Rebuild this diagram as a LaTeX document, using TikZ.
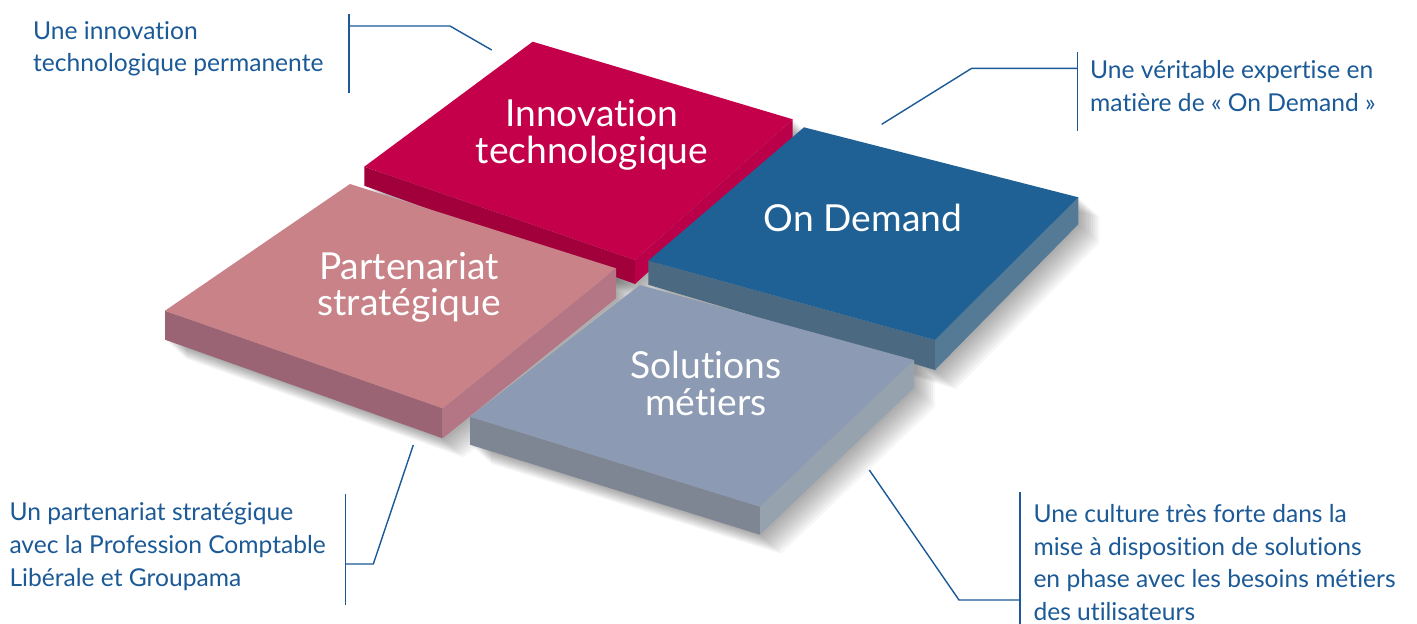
\documentclass[tikz,border=0pt]{standalone}
\usepackage{fontspec}
\setmainfont{Lato}[Ligatures={NoCommon}]
\usetikzlibrary{calc}
\definecolor{txtblue}{HTML}{1B5A97}
\definecolor{innT}{HTML}{C5004B}\definecolor{innL}{HTML}{A1003A}\definecolor{innR}{HTML}{BA0049}
\definecolor{ondT}{HTML}{1F6194}\definecolor{ondL}{HTML}{4B6A81}\definecolor{ondR}{HTML}{557A95}
\definecolor{parT}{HTML}{C88288}\definecolor{parL}{HTML}{9A6474}\definecolor{parR}{HTML}{B47585}
\definecolor{solT}{HTML}{8C9AB3}\definecolor{solL}{HTML}{7E8593}\definecolor{solR}{HTML}{97A2AF}
\newcommand\mktile[8]{% prefix, T, R, F, L, dL, dF, dR
  \coordinate (#1T) at #2; \coordinate (#1R) at #3; \coordinate (#1F) at #4; \coordinate (#1L) at #5;
  \coordinate (#1Lb) at ($(#1L)+(0,#6)$); \coordinate (#1Fb) at ($(#1F)+(0,#7)$); \coordinate (#1Rb) at ($(#1R)+(0,#8)$);
}
\newcommand\tileshadow[1]{%
  \foreach \i in {1,...,10}{
    \fill[black,opacity=0.036]
      ($(#1T)+(\i*2.1,\i*1.9)$) -- ($(#1R)+(\i*2.1,\i*1.9)$) -- ($(#1Rb)+(\i*2.1,\i*1.9)$) --
      ($(#1Fb)+(\i*2.1,\i*1.9)$) -- ($(#1Lb)+(\i*2.1,\i*1.9)$) -- ($(#1L)+(\i*2.1,\i*1.9)$) -- cycle;
  }}
\newcommand\tilefaces[2]{% prefix, colour prefix
  \fill[#2L] (#1L) -- (#1F) -- (#1Fb) -- (#1Lb) -- cycle;
  \fill[#2R] (#1F) -- (#1R) -- (#1Rb) -- (#1Fb) -- cycle;
  \fill[#2T] (#1T) -- (#1R) -- (#1F) -- (#1L) -- cycle;
}
\tikzset{
  desc/.style={anchor=base west, inner sep=0pt, align=left, text=txtblue,
    font=\fontsize{24.6}{32.6}\selectfont},
  tilelabel/.style={anchor=base, inner sep=0pt, align=center, text=white,
    font=\fontsize{37.2}{36.7}\selectfont},
  conn/.style={draw=txtblue, line width=1.4pt}
}
\begin{document}
\begin{tikzpicture}[x=1pt,y=-1pt]
\useasboundingbox (0,0) rectangle (1417,624);
\fill[white] (0,0) rectangle (1417,624);
% tile geometry
\mktile{i}{(532.7,41.7)}{(792.7,119.3)}{(635,260)}{(364.3,166.7)}{19}{24}{21}
\mktile{o}{(804,127.3)}{(1078.3,197.3)}{(935,340)}{(648.3,260.7)}{24}{30}{27}
\mktile{p}{(350,184)}{(616,268.3)}{(442.7,408.3)}{(165,310.7)}{29}{30}{30}
\mktile{s}{(640,285)}{(914,360)}{(760,506.7)}{(470,416.7)}{28}{28}{28}
% shadows
\tileshadow{i}\tileshadow{o}\tileshadow{p}\tileshadow{s}
% tiles, back to front
\tilefaces{i}{inn}
\tilefaces{o}{ond}
\tilefaces{p}{par}
\tilefaces{s}{sol}
% tile labels (anchored at the baseline of the last line)
\node[tilelabel] (lInn) at (592,163.3) {Innovation\\technologique};
\node[tilelabel] (lOnd) at (863,231.7) {On Demand};
\node[tilelabel] (lPar) at (409,315.7) {Partenariat\\stratégique};
\node[tilelabel] (lSol) at (706,415) {Solutions\\métiers};
% descriptions
\node[desc] (dTL) at (33,71.7) {Une innovation\\technologique permanente};
\node[desc] (dTR) at (1090,111) {Une véritable expertise en\\matière de « On Demand »};
\node[desc] (dBL) at (9.3,586) {Un partenariat stratégique\\avec la Profession Comptable\\Libérale et Groupama};
\node[desc] (dBR) at (1033.3,620.5) {Une culture très forte dans la\\mise à disposition de solutions\\en phase avec les besoins métiers\\des utilisateurs};
% connectors
\coordinate (tlA) at (349,14); \coordinate (tlB) at (349,93); \coordinate (tlJ) at (349,26);
\coordinate (tlK) at (450,26); \coordinate (tlE) at (491.7,50);
\draw[conn] (tlA) -- (tlB);
\draw[conn] (tlJ) -- (tlK) -- (tlE);
\coordinate (trA) at (1077.3,52.3); \coordinate (trB) at (1077.3,130.7); \coordinate (trJ) at (1077.3,68.3);
\coordinate (trK) at (971.7,68.3); \coordinate (trE) at (881.7,124.3);
\draw[conn] (trA) -- (trB);
\draw[conn] (trJ) -- (trK) -- (trE);
\coordinate (blA) at (345.7,494); \coordinate (blB) at (345.7,605); \coordinate (blJ) at (345.7,564);
\coordinate (blK) at (373.3,564); \coordinate (blE) at (413.3,445);
\draw[conn] (blA) -- (blB);
\draw[conn] (blJ) -- (blK) -- (blE);
\coordinate (brA) at (1020,492.3); \coordinate (brB) at (1020,626); \coordinate (brJ) at (1020,600);
\coordinate (brK) at (959,600); \coordinate (brE) at (869.3,470);
\draw[conn] (brA) -- (brB);
\draw[conn] (brJ) -- (brK) -- (brE);
\end{tikzpicture}
\end{document}
